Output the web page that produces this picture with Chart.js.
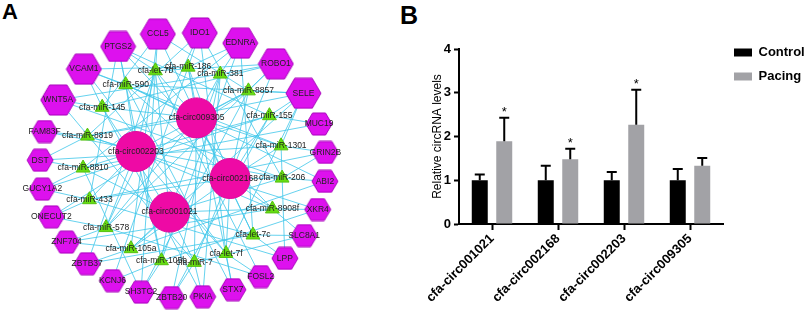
<!DOCTYPE html>
<html>
<head>
<meta charset="utf-8">
<script src="https://cdn.jsdelivr.net/npm/chart.js@4/dist/chart.umd.min.js"></script>
<style>
  body { margin: 0; width: 811px; height: 312px; background: #fff; position: relative; overflow: hidden; font-family: "Liberation Sans", Arial, sans-serif; }
  #netA { position: absolute; left: 0; top: 0; }
  #barB { position: absolute; left: 400px; top: 0; }
  .tag { position: absolute; font-weight: bold; line-height: 1; color: #000; }
</style>
</head>
<body>
<div class="tag" style="left:2px;top:1px;font-size:22px">A</div>
<div class="tag" style="left:400px;top:3px;font-size:25px">B</div>
<canvas id="netA" width="400" height="312"></canvas>
<canvas id="barB" width="411" height="312"></canvas>
<script>
// ---- panel A: ceRNA network ----
const circRNAs = ['cfa-circ009305', 'cfa-circ002168', 'cfa-circ001021', 'cfa-circ002203'];
const miRNAs = ['cfa-let-7b', 'cfa-miR-186', 'cfa-miR-381', 'cfa-miR-8857', 'cfa-miR-155', 'cfa-miR-1301',
  'cfa-miR-206', 'cfa-miR-8908f', 'cfa-let-7c', 'cfa-let-7f', 'cfa-miR-7', 'cfa-miR-105b', 'cfa-miR-105a',
  'cfa-miR-578', 'cfa-miR-433', 'cfa-miR-8810', 'cfa-miR-8819', 'cfa-miR-145', 'cfa-miR-590'];
const genes = ['PTGS2', 'CCL5', 'IDO1', 'EDNRA', 'ROBO1', 'SELE', 'MUC19', 'GRIN2B', 'ABI2', 'XKR4', 'SLC8A1',
  'LPP', 'FOSL2', 'STX7', 'PKIA', 'ZBTB20', 'SH3TC2', 'KCNJ6', 'ZBTB37', 'ZNF704', 'ONECUT2', 'GUCY1A2',
  'DST', 'FAM83F', 'WNT5A', 'VCAM1'];
const hubGenes = ['PTGS2', 'CCL5', 'IDO1', 'EDNRA', 'ROBO1', 'SELE', 'WNT5A', 'VCAM1'];

// links, same order as miRNAs
const mirCircLinks = [
  ['cfa-circ009305', 'cfa-circ001021', 'cfa-circ002203'],
  ['cfa-circ009305', 'cfa-circ002168'],
  ['cfa-circ009305', 'cfa-circ001021'],
  ['cfa-circ009305', 'cfa-circ002168', 'cfa-circ002203'],
  ['cfa-circ002168', 'cfa-circ002203'],
  ['cfa-circ009305', 'cfa-circ002168'],
  ['cfa-circ002168', 'cfa-circ001021'],
  ['cfa-circ002168', 'cfa-circ002203', 'cfa-circ001021'],
  ['cfa-circ009305', 'cfa-circ001021'],
  ['cfa-circ002168', 'cfa-circ002203'],
  ['cfa-circ001021', 'cfa-circ009305'],
  ['cfa-circ001021', 'cfa-circ002203'],
  ['cfa-circ001021', 'cfa-circ002168'],
  ['cfa-circ002203', 'cfa-circ009305'],
  ['cfa-circ002203', 'cfa-circ002168'],
  ['cfa-circ002203', 'cfa-circ001021'],
  ['cfa-circ002203', 'cfa-circ009305'],
  ['cfa-circ009305', 'cfa-circ001021'],
  ['cfa-circ009305', 'cfa-circ002168', 'cfa-circ002203'],
];
const mirGeneLinks = [
  ['PTGS2', 'CCL5', 'ROBO1', 'SH3TC2', 'ZBTB37', 'FOSL2'],
  ['IDO1', 'EDNRA', 'VCAM1', 'STX7', 'KCNJ6'],
  ['EDNRA', 'ROBO1', 'WNT5A', 'PKIA', 'ZBTB20'],
  ['SELE', 'ROBO1', 'CCL5', 'ONECUT2', 'SH3TC2'],
  ['SELE', 'MUC19', 'PTGS2', 'GUCY1A2', 'ZBTB20'],
  ['GRIN2B', 'SELE', 'VCAM1', 'DST', 'LPP'],
  ['ABI2', 'GRIN2B', 'WNT5A', 'FAM83F', 'IDO1'],
  ['XKR4', 'SLC8A1', 'PTGS2', 'ZNF704'],
  ['SLC8A1', 'LPP', 'CCL5', 'ZBTB37', 'EDNRA'],
  ['FOSL2', 'STX7', 'IDO1', 'VCAM1', 'SELE'],
  ['PKIA', 'ZBTB20', 'ROBO1', 'WNT5A', 'SLC8A1'],
  ['SH3TC2', 'KCNJ6', 'EDNRA', 'XKR4', 'PTGS2'],
  ['ZBTB37', 'ZNF704', 'CCL5', 'ABI2', 'SELE'],
  ['ONECUT2', 'ZNF704', 'IDO1', 'ROBO1', 'FOSL2'],
  ['GUCY1A2', 'ONECUT2', 'PTGS2', 'GRIN2B', 'LPP'],
  ['DST', 'GUCY1A2', 'EDNRA', 'MUC19', 'SH3TC2'],
  ['FAM83F', 'DST', 'SELE', 'IDO1', 'XKR4'],
  ['WNT5A', 'VCAM1', 'ROBO1', 'CCL5', 'PKIA'],
  ['VCAM1', 'PTGS2', 'SELE', 'ABI2', 'STX7'],
];

// ---- panel B: qPCR bars ----
const circLabels = ['cfa-circ001021', 'cfa-circ002168', 'cfa-circ002203', 'cfa-circ009305'];
const controlMean = [1.0, 1.0, 1.0, 1.0];
const controlErr = [0.13, 0.33, 0.19, 0.26];
const pacingMean = [1.89, 1.48, 2.27, 1.33];
const pacingErr = [0.54, 0.24, 0.80, 0.18];
const pacingSig = [true, true, true, false];

const FONT = '"Liberation Sans", Arial, sans-serif';

// concentric ring layout (centre and radii in panel pixels)
const CX = 183, CY = 165;
function ring(angleDeg, rx, ry) {
  const a = angleDeg * Math.PI / 180;
  return { x: CX + rx * Math.sin(a), y: CY - ry * Math.cos(a) };
}
const geneW = genes.map(g => hubGenes.includes(g) ? 1.35 : 1);
const gapSum = geneW.reduce((s, w, i) => s + (w + geneW[(i + 1) % genes.length]) / 2, 0);
let acc = -27;
const genePos = genes.map((g, i) => {
  const p = ring(acc, 143, 133);
  acc += (geneW[i] + geneW[(i + 1) % genes.length]) / 2 * 360 / gapSum;
  return p;
});
const mirPos = miRNAs.map((m, i) => ring(-16 + i * 360 / miRNAs.length, 100, 98));
const circPos = circRNAs.map((c, i) => ring(16 + i * 90, 49, 49));

const edgePts = [];
const gap = { x: NaN, y: NaN };
miRNAs.forEach((m, i) => {
  mirCircLinks[i].forEach(c => edgePts.push(mirPos[i], circPos[circRNAs.indexOf(c)], gap));
  mirGeneLinks[i].forEach(g => edgePts.push(mirPos[i], genePos[genes.indexOf(g)], gap));
});

function hexImage(w, h) {
  const c = document.createElement('canvas');
  c.width = w + 2; c.height = h + 2;
  const g = c.getContext('2d');
  const cx = c.width / 2, cy = c.height / 2;
  g.beginPath();
  g.moveTo(cx - w / 2, cy);
  g.lineTo(cx - w / 4, cy - h / 2);
  g.lineTo(cx + w / 4, cy - h / 2);
  g.lineTo(cx + w / 2, cy);
  g.lineTo(cx + w / 4, cy + h / 2);
  g.lineTo(cx - w / 4, cy + h / 2);
  g.closePath();
  g.fillStyle = '#dd11ee';
  g.fill();
  g.strokeStyle = '#a800bb';
  g.lineWidth = 1;
  g.stroke();
  return c;
}
const hexBig = hexImage(35, 30);
const hexSmall = hexImage(26, 22);

const nodeLabels = {
  id: 'nodeLabels',
  afterDatasetsDraw(chart) {
    const ctx = chart.ctx;
    ctx.save();
    ctx.font = '8.5px ' + FONT;
    ctx.fillStyle = '#222';
    ctx.textAlign = 'center';
    ctx.textBaseline = 'middle';
    chart.data.datasets.forEach((ds, i) => {
      if (!ds.names) return;
      chart.getDatasetMeta(i).data.forEach((pt, j) => ctx.fillText(ds.names[j], pt.x, pt.y));
    });
    ctx.restore();
  }
};

new Chart(document.getElementById('netA'), {
  type: 'scatter',
  data: {
    datasets: [
      { data: edgePts, showLine: true, spanGaps: false, borderColor: '#3fc6ea', borderWidth: 0.8, pointRadius: 0, order: 10 },
      { data: genePos, names: genes, pointRadius: 14, order: 3,
        pointStyle: c => hubGenes.includes(genes[c.dataIndex]) ? hexBig : hexSmall },
      { data: mirPos, names: miRNAs, pointStyle: 'triangle', pointRadius: 8, order: 2,
        backgroundColor: '#66dd11', borderColor: '#55c010', borderWidth: 1 },
      { data: circPos, names: circRNAs, pointStyle: 'circle', pointRadius: 20, order: 1,
        backgroundColor: '#ee0aa5', borderColor: '#e0089b', borderWidth: 1 },
    ]
  },
  options: {
    responsive: false,
    animation: false,
    events: [],
    layout: { padding: 0, autoPadding: false },
    plugins: { legend: { display: false }, tooltip: { enabled: false } },
    scales: {
      x: { type: 'linear', min: 0, max: 400, display: false },
      y: { type: 'linear', min: 0, max: 312, reverse: true, display: false },
    }
  },
  plugins: [nodeLabels]
});

const errorBars = {
  id: 'errorBars',
  afterDatasetsDraw(chart) {
    const { ctx } = chart;
    const y = chart.scales.y;
    ctx.save();
    ctx.strokeStyle = '#000';
    ctx.fillStyle = '#000';
    ctx.lineWidth = 2;
    chart.data.datasets.forEach((ds, i) => {
      chart.getDatasetMeta(i).data.forEach((bar, j) => {
        const top = y.getPixelForValue(ds.data[j] + ds.err[j]);
        ctx.beginPath();
        ctx.moveTo(bar.x, bar.y);
        ctx.lineTo(bar.x, top);
        ctx.moveTo(bar.x - 5, top);
        ctx.lineTo(bar.x + 5, top);
        ctx.stroke();
        if (ds.sig && ds.sig[j]) {
          ctx.font = '13px ' + FONT;
          ctx.textAlign = 'center';
          ctx.textBaseline = 'alphabetic';
          ctx.fillText('*', bar.x, top - 2);
        }
      });
    });
    ctx.restore();
  }
};

new Chart(document.getElementById('barB'), {
  type: 'bar',
  data: {
    labels: circLabels,
    datasets: [
      { label: 'Control', data: controlMean, err: controlErr, backgroundColor: '#000000' },
      { label: 'Pacing', data: pacingMean, err: pacingErr, sig: pacingSig, backgroundColor: '#a2a2a6' },
    ]
  },
  options: {
    responsive: false,
    animation: false,
    events: [],
    layout: { padding: { left: 27, top: 35, right: 0, bottom: 0 } },
    datasets: { bar: { categoryPercentage: 0.742, barPercentage: 0.653 } },
    plugins: {
      tooltip: { enabled: false },
      legend: {
        position: 'right', align: 'start', maxWidth: 88,
        labels: { boxWidth: 18, boxHeight: 8, padding: 11, color: '#000', font: { size: 13, weight: 'bold', family: FONT } }
      }
    },
    scales: {
      x: {
        grid: { drawOnChartArea: false, offset: false, tickLength: 6, tickWidth: 2, tickColor: '#000' },
        border: { color: '#000', width: 2 },
        ticks: { minRotation: 45, maxRotation: 45, autoSkip: false, padding: 1, color: '#000', font: { size: 13, weight: 'bold', family: FONT } },
        afterFit: s => { s.height = 88; }
      },
      y: {
        min: 0, max: 4,
        ticks: { stepSize: 1, padding: 3, color: '#000', font: { size: 13, weight: 'bold', family: FONT } },
        grid: { drawOnChartArea: false, tickLength: 5, tickWidth: 2, tickColor: '#000' },
        border: { color: '#000', width: 2 },
        title: { display: true, text: 'Relative circRNA levels', color: '#000', padding: { top: 3, bottom: 2 }, font: { size: 12, family: FONT } },
        afterFit: s => { s.width = 32; s.paddingTop = 49; }
      }
    }
  },
  plugins: [errorBars]
});
</script>
</body>
</html>
